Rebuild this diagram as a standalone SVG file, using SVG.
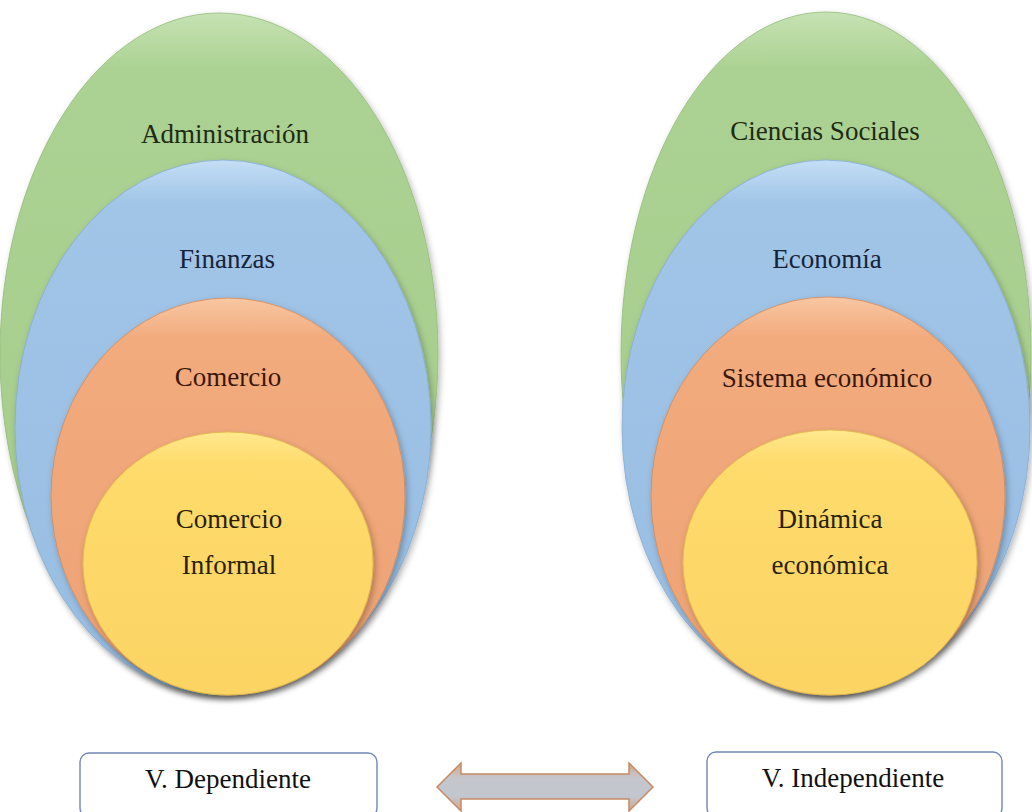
<svg xmlns="http://www.w3.org/2000/svg" width="1032" height="812" viewBox="0 0 1032 812">
<style>
text{font-family:'Liberation Serif',Tinos,'Times New Roman','DejaVu Serif',serif;font-size:27px;text-anchor:middle}
.tg{fill:#1d2b12}.tb{fill:#16243a}.to{fill:#3a1708}.ty{fill:#2a1e06}
.box{fill:#ffffff;stroke:#7088b4;stroke-width:1.4}
.tx{fill:#111111}
</style>
<defs>
<filter id="sh" x="-10%" y="-10%" width="125%" height="125%">
<feDropShadow dx="2" dy="3" stdDeviation="3" flood-color="#000" flood-opacity="0.28"/>
</filter>
<linearGradient id="gG" x1="0" y1="0" x2="0" y2="1"><stop offset="0" stop-color="#c6e2b3"/><stop offset="0.08" stop-color="#acd293"/><stop offset="1" stop-color="#a4cc8a"/></linearGradient>
<linearGradient id="gB" x1="0" y1="0" x2="0" y2="1"><stop offset="0" stop-color="#c4def5"/><stop offset="0.08" stop-color="#a1c5e7"/><stop offset="1" stop-color="#97bde2"/></linearGradient>
<linearGradient id="gO" x1="0" y1="0" x2="0" y2="1"><stop offset="0" stop-color="#f8c7a2"/><stop offset="0.1" stop-color="#f2ab7d"/><stop offset="1" stop-color="#eda274"/></linearGradient>
<linearGradient id="gY" x1="0" y1="0" x2="0" y2="1"><stop offset="0" stop-color="#ffe88e"/><stop offset="0.12" stop-color="#fedb6c"/><stop offset="1" stop-color="#fbd463"/></linearGradient>
<linearGradient id="gA" x1="0" y1="0" x2="0" y2="1"><stop offset="0" stop-color="#d9a483"/><stop offset="0.3" stop-color="#c6c6cc"/><stop offset="0.7" stop-color="#c2c6ce"/><stop offset="1" stop-color="#d9a483"/></linearGradient>
</defs>
<rect width="1032" height="812" fill="#ffffff"/>

<g id="left-administracion"><ellipse cx="219" cy="354" rx="219" ry="341" fill="url(#gG)" stroke="#93bb78" stroke-width="0.8" filter="url(#sh)"/><text class="tg" x="225" y="143">Administración</text></g>
<g id="left-finanzas"><ellipse cx="223" cy="427.5" rx="208" ry="267.5" fill="url(#gB)" stroke="#85acd2" stroke-width="0.8" filter="url(#sh)"/><text class="tb" x="227" y="268">Finanzas</text></g>
<g id="left-comercio"><ellipse cx="228" cy="496.5" rx="177" ry="198.5" fill="url(#gO)" stroke="#d08a5c" stroke-width="0.8" filter="url(#sh)"/><text class="to" x="228" y="386">Comercio</text></g>
<g id="left-comercio-informal"><ellipse cx="228" cy="563.5" rx="145" ry="131.5" fill="url(#gY)" stroke="#e0b948" stroke-width="0.8" filter="url(#sh)"/><text class="ty" x="229" y="528">Comercio</text><text class="ty" x="229" y="574">Informal</text></g>

<g id="right-ciencias-sociales"><ellipse cx="826" cy="353.5" rx="205" ry="341.5" fill="url(#gG)" stroke="#93bb78" stroke-width="0.8" filter="url(#sh)"/><text class="tg" x="825" y="140">Ciencias Sociales</text></g>
<g id="right-economia"><ellipse cx="826" cy="427.5" rx="204" ry="267.5" fill="url(#gB)" stroke="#85acd2" stroke-width="0.8" filter="url(#sh)"/><text class="tb" x="827" y="268">Economía</text></g>
<g id="right-sistema-economico"><ellipse cx="828" cy="496" rx="177" ry="199" fill="url(#gO)" stroke="#d08a5c" stroke-width="0.8" filter="url(#sh)"/><text class="to" x="827" y="387">Sistema económico</text></g>
<g id="right-dinamica-economica"><ellipse cx="830" cy="562.5" rx="147" ry="132.5" fill="url(#gY)" stroke="#e0b948" stroke-width="0.8" filter="url(#sh)"/><text class="ty" x="830" y="528">Dinámica</text><text class="ty" x="830" y="574">económica</text></g>

<g id="v-dependiente"><rect class="box" x="80" y="753" width="297" height="64" rx="9"/><text class="tx" x="228" y="788">V. Dependiente</text></g>
<g id="v-independiente"><rect class="box" x="707" y="752" width="295" height="65" rx="9"/><text class="tx" x="853" y="787">V. Independiente</text></g>

<g id="connectors">
<polygon points="437,787 461,763 461,774 629,774 629,763 653,787 629,811 629,799 461,799 461,811" fill="url(#gA)" stroke="#c48a66" stroke-width="1.5" stroke-linejoin="miter"/>
</g>
</svg>
